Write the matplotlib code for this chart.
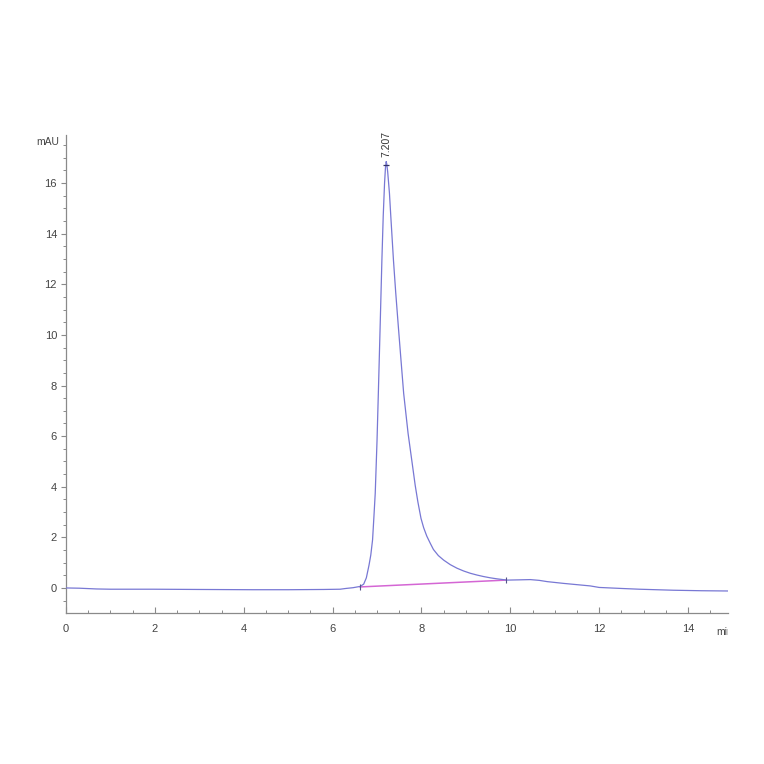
import matplotlib
matplotlib.use("Agg")
import matplotlib.pyplot as plt
from matplotlib.ticker import MultipleLocator
from matplotlib.transforms import Bbox

plt.rcParams['font.family'] = ['Liberation Sans', 'DejaVu Sans']

# Chromatogram trace (time in min, signal in mAU)
time_min = [0.00, 0.30, 0.69, 1.00, 1.96, 3.00, 4.20, 5.00, 5.80, 6.17, 6.30, 6.46,
            6.62, 6.70, 6.76, 6.82, 6.86, 6.90, 6.93, 6.96, 7.00, 7.03, 7.07, 7.11,
            7.14, 7.17, 7.19, 7.207, 7.22, 7.24, 7.28, 7.31, 7.37, 7.42, 7.48, 7.54,
            7.60, 7.70, 7.79, 7.86, 7.92, 7.99, 8.05, 8.12, 8.20, 8.27, 8.38, 8.50,
            8.65, 8.80, 8.95, 9.10, 9.25, 9.40, 9.55, 9.70, 9.93, 10.20,
            10.45, 10.65, 10.83, 11.20, 11.50, 11.80, 12.00, 12.50, 12.90, 13.67,
            14.30, 14.90]
signal_mau = [0.00, -0.01, -0.04, -0.05, -0.05, -0.06, -0.07, -0.07, -0.06, -0.05, -0.02, 0.01,
              0.06, 0.15, 0.40, 0.90, 1.30, 1.90, 2.80, 3.74, 5.80, 7.69, 10.30, 12.96,
              14.70, 16.00, 16.60, 16.85, 16.75, 16.45, 15.60, 14.70, 12.96, 11.70, 10.33, 9.00,
              7.69, 6.10, 4.95, 4.05, 3.40, 2.75, 2.38, 2.05, 1.76, 1.52, 1.28, 1.10,
              0.92, 0.78, 0.67, 0.58, 0.51, 0.45, 0.40, 0.36, 0.31, 0.32,
              0.33, 0.30, 0.25, 0.18, 0.13, 0.08, 0.02, -0.02, -0.05, -0.09,
              -0.11, -0.12]

# Integration baseline
base_t = [6.62, 9.90]
base_y = [0.04, 0.31]

# Peak annotation
peak_t = 7.207
peak_y = 16.85
peak_label = "7.207"

x_ticks = [0, 2, 4, 6, 8, 10, 12, 14]
y_ticks = [0, 2, 4, 6, 8, 10, 12, 14, 16]

W = H = 764
fig = plt.figure(figsize=(7.64, 7.64), dpi=100)
ax = fig.add_axes([66 / W, 1 - 613 / H, 662 / W, (613 - 135) / H])

trace_color = '#7878d4'
base_color = '#d466d4'

ax.plot(base_t, base_y, color=base_color, lw=1.1, zorder=2)
ax.plot(time_min, signal_mau, color=trace_color, lw=0.9, zorder=3, solid_joinstyle='round')
# integration markers
ax.plot(base_t, base_y, linestyle='none', marker='|', markersize=4, color='#555588', mew=0.8, zorder=4)
ax.plot([peak_t], [peak_y - 0.15], linestyle='none', marker='_', markersize=4, color='#333366', mew=0.9, zorder=4)

ax.text(peak_t, peak_y + 0.2, peak_label, rotation=90, ha='center', va='bottom',
        fontsize=7.5, color='#333333')

ax.set_xlim(0, 14.9)
ax.set_ylim(-0.99, 17.9)

for s in ['top', 'right']:
    ax.spines[s].set_visible(False)
for s in ['left', 'bottom']:
    ax.spines[s].set_color('#8a8a8a')
    ax.spines[s].set_linewidth(0.9)

ax.set_xticks(x_ticks)
ax.set_yticks(y_ticks)
ax.xaxis.set_minor_locator(MultipleLocator(0.5))
ax.yaxis.set_minor_locator(MultipleLocator(0.5))
ax.tick_params(axis='x', which='major', direction='in', length=4, width=0.8, color='#8a8a8a',
               labelsize=8, labelcolor='#444444', pad=8)
ax.tick_params(axis='x', which='minor', direction='in', length=2.5, width=0.7, color='#8a8a8a')
ax.tick_params(axis='y', which='major', direction='out', length=3.5, width=0.8, color='#8a8a8a',
               labelsize=8, labelcolor='#444444', pad=3)
ax.tick_params(axis='y', which='minor', direction='out', length=2, width=0.7, color='#8a8a8a')

fig.text(48 / W, 1 - 142 / H, 'mAU', ha='center', va='center', fontsize=7.5, color='#444444')
t = fig.text(716 / W, 1 - 632 / H, 'min', ha='left', va='center', fontsize=7.5, color='#444444')
t.set_clip_box(Bbox.from_extents(0, 0, 728, 764))
t.set_clip_on(True)

fig.savefig('out.png', dpi=100, facecolor='white')
